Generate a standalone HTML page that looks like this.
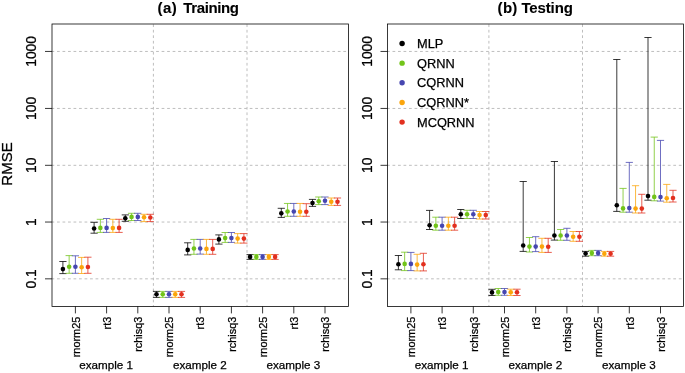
<!DOCTYPE html>
<html><head><meta charset="utf-8"><style>
html,body{margin:0;padding:0;background:#fff;}
svg{display:block;will-change:transform;}
text{font-family:"Liberation Sans",sans-serif;fill:#000;stroke:#000;stroke-width:0.25px;}
.ti{stroke-width:0.1px;}
.ya{font-size:13.8px;}
.xa{font-size:10.9px;}
.ex{font-size:11.65px;}
.ti{font-size:15px;font-weight:bold;word-spacing:1.3px;}
.lg{font-size:12.8px;}
.yl{font-size:15px;}
</style></head><body>
<svg width="685" height="373" viewBox="0 0 685 373">
<rect width="685" height="373" fill="#fff"/>
<line x1="52" y1="51.44" x2="348.4" y2="51.44" stroke="#bebebe" stroke-width="1" stroke-dasharray="2.75 2.756" stroke-dashoffset="0.5"/>
<line x1="52" y1="108.45" x2="348.4" y2="108.45" stroke="#bebebe" stroke-width="1" stroke-dasharray="2.75 2.756" stroke-dashoffset="0.5"/>
<line x1="52" y1="165.32" x2="348.4" y2="165.32" stroke="#bebebe" stroke-width="1" stroke-dasharray="2.75 2.756" stroke-dashoffset="0.5"/>
<line x1="52" y1="222.04" x2="348.4" y2="222.04" stroke="#bebebe" stroke-width="1" stroke-dasharray="2.75 2.756" stroke-dashoffset="0.5"/>
<line x1="52" y1="278.84" x2="348.4" y2="278.84" stroke="#bebebe" stroke-width="1" stroke-dasharray="2.75 2.756" stroke-dashoffset="0.5"/>
<line x1="153.4" y1="24" x2="153.4" y2="306.4" stroke="#bebebe" stroke-width="1" stroke-dasharray="2.75 2.756" stroke-dashoffset="-0.3"/>
<line x1="247" y1="24" x2="247" y2="306.4" stroke="#bebebe" stroke-width="1" stroke-dasharray="2.75 2.756" stroke-dashoffset="-0.3"/>
<path d="M62.9 261.5V273.6M59.3 261.5H66.5M59.3 273.6H66.5" stroke="#000000" stroke-width="0.78" fill="none"/>
<path d="M69.15 255.6V273.3M65.55 255.6H72.75M65.55 273.3H72.75" stroke="#72C41A" stroke-width="0.78" fill="none"/>
<path d="M75.4 255.8V273.3M71.8 255.8H79M71.8 273.3H79" stroke="#4646B0" stroke-width="0.78" fill="none"/>
<path d="M81.65 257.4V273.5M78.05 257.4H85.25M78.05 273.5H85.25" stroke="#FBA50C" stroke-width="0.78" fill="none"/>
<path d="M87.9 257.2V273.3M84.3 257.2H91.5M84.3 273.3H91.5" stroke="#E2301F" stroke-width="0.78" fill="none"/>
<circle cx="62.9" cy="269.1" r="2.3" fill="#000000"/>
<circle cx="69.15" cy="266.7" r="2.3" fill="#72C41A"/>
<circle cx="75.4" cy="266.7" r="2.3" fill="#4646B0"/>
<circle cx="81.65" cy="267.3" r="2.3" fill="#FBA50C"/>
<circle cx="87.9" cy="267" r="2.3" fill="#E2301F"/>
<path d="M94.1 222.3V233.2M90.5 222.3H97.7M90.5 233.2H97.7" stroke="#000000" stroke-width="0.78" fill="none"/>
<path d="M100.35 219.3V232.4M96.75 219.3H103.95M96.75 232.4H103.95" stroke="#72C41A" stroke-width="0.78" fill="none"/>
<path d="M106.6 218.5V232.4M103 218.5H110.2M103 232.4H110.2" stroke="#4646B0" stroke-width="0.78" fill="none"/>
<path d="M112.85 219.3V232.4M109.25 219.3H116.45M109.25 232.4H116.45" stroke="#FBA50C" stroke-width="0.78" fill="none"/>
<path d="M119.1 219.3V232.4M115.5 219.3H122.7M115.5 232.4H122.7" stroke="#E2301F" stroke-width="0.78" fill="none"/>
<circle cx="94.1" cy="228.5" r="2.3" fill="#000000"/>
<circle cx="100.35" cy="227.9" r="2.3" fill="#72C41A"/>
<circle cx="106.6" cy="227.9" r="2.3" fill="#4646B0"/>
<circle cx="112.85" cy="228.1" r="2.3" fill="#FBA50C"/>
<circle cx="119.1" cy="227.9" r="2.3" fill="#E2301F"/>
<path d="M125.3 214.9V221.3M121.7 214.9H128.9M121.7 221.3H128.9" stroke="#000000" stroke-width="0.78" fill="none"/>
<path d="M131.55 213.3V220.5M127.95 213.3H135.15M127.95 220.5H135.15" stroke="#72C41A" stroke-width="0.78" fill="none"/>
<path d="M137.8 213.3V220.5M134.2 213.3H141.4M134.2 220.5H141.4" stroke="#4646B0" stroke-width="0.78" fill="none"/>
<path d="M144.05 214.3V221.6M140.45 214.3H147.65M140.45 221.6H147.65" stroke="#FBA50C" stroke-width="0.78" fill="none"/>
<path d="M150.3 214.3V221.6M146.7 214.3H153.9M146.7 221.6H153.9" stroke="#E2301F" stroke-width="0.78" fill="none"/>
<circle cx="125.3" cy="218.35" r="2.3" fill="#000000"/>
<circle cx="131.55" cy="216.9" r="2.3" fill="#72C41A"/>
<circle cx="137.8" cy="216.9" r="2.3" fill="#4646B0"/>
<circle cx="144.05" cy="217.3" r="2.3" fill="#FBA50C"/>
<circle cx="150.3" cy="217.5" r="2.3" fill="#E2301F"/>
<path d="M156.5 291.4V297.4M152.9 291.4H160.1M152.9 297.4H160.1" stroke="#000000" stroke-width="0.78" fill="none"/>
<path d="M162.75 291.4V297.4M159.15 291.4H166.35M159.15 297.4H166.35" stroke="#72C41A" stroke-width="0.78" fill="none"/>
<path d="M169 291.4V297.4M165.4 291.4H172.6M165.4 297.4H172.6" stroke="#4646B0" stroke-width="0.78" fill="none"/>
<path d="M175.25 291.4V297.4M171.65 291.4H178.85M171.65 297.4H178.85" stroke="#FBA50C" stroke-width="0.78" fill="none"/>
<path d="M181.5 291.4V297.4M177.9 291.4H185.1M177.9 297.4H185.1" stroke="#E2301F" stroke-width="0.78" fill="none"/>
<circle cx="156.5" cy="294.3" r="2.3" fill="#000000"/>
<circle cx="162.75" cy="294.3" r="2.3" fill="#72C41A"/>
<circle cx="169" cy="294.3" r="2.3" fill="#4646B0"/>
<circle cx="175.25" cy="294.3" r="2.3" fill="#FBA50C"/>
<circle cx="181.5" cy="294.3" r="2.3" fill="#E2301F"/>
<path d="M187.7 242.8V254.9M184.1 242.8H191.3M184.1 254.9H191.3" stroke="#000000" stroke-width="0.78" fill="none"/>
<path d="M193.95 239.4V254.3M190.35 239.4H197.55M190.35 254.3H197.55" stroke="#72C41A" stroke-width="0.78" fill="none"/>
<path d="M200.2 239.4V254.1M196.6 239.4H203.8M196.6 254.1H203.8" stroke="#4646B0" stroke-width="0.78" fill="none"/>
<path d="M206.45 239.4V254.3M202.85 239.4H210.05M202.85 254.3H210.05" stroke="#FBA50C" stroke-width="0.78" fill="none"/>
<path d="M212.7 239.4V254.3M209.1 239.4H216.3M209.1 254.3H216.3" stroke="#E2301F" stroke-width="0.78" fill="none"/>
<circle cx="187.7" cy="249.9" r="2.3" fill="#000000"/>
<circle cx="193.95" cy="248.5" r="2.3" fill="#72C41A"/>
<circle cx="200.2" cy="248.5" r="2.3" fill="#4646B0"/>
<circle cx="206.45" cy="248.9" r="2.3" fill="#FBA50C"/>
<circle cx="212.7" cy="248.9" r="2.3" fill="#E2301F"/>
<path d="M218.9 234.9V244.1M215.3 234.9H222.5M215.3 244.1H222.5" stroke="#000000" stroke-width="0.78" fill="none"/>
<path d="M225.15 232.5V242.4M221.55 232.5H228.75M221.55 242.4H228.75" stroke="#72C41A" stroke-width="0.78" fill="none"/>
<path d="M231.4 232.5V242.4M227.8 232.5H235M227.8 242.4H235" stroke="#4646B0" stroke-width="0.78" fill="none"/>
<path d="M237.65 233.6V243.1M234.05 233.6H241.25M234.05 243.1H241.25" stroke="#FBA50C" stroke-width="0.78" fill="none"/>
<path d="M243.9 233.6V243.1M240.3 233.6H247.5M240.3 243.1H247.5" stroke="#E2301F" stroke-width="0.78" fill="none"/>
<circle cx="218.9" cy="239.4" r="2.3" fill="#000000"/>
<circle cx="225.15" cy="238.1" r="2.3" fill="#72C41A"/>
<circle cx="231.4" cy="238.1" r="2.3" fill="#4646B0"/>
<circle cx="237.65" cy="238.6" r="2.3" fill="#FBA50C"/>
<circle cx="243.9" cy="238.6" r="2.3" fill="#E2301F"/>
<path d="M250.1 254.6V259.4M246.5 254.6H253.7M246.5 259.4H253.7" stroke="#000000" stroke-width="0.78" fill="none"/>
<path d="M256.35 254.6V259.4M252.75 254.6H259.95M252.75 259.4H259.95" stroke="#72C41A" stroke-width="0.78" fill="none"/>
<path d="M262.6 254.6V259.4M259 254.6H266.2M259 259.4H266.2" stroke="#4646B0" stroke-width="0.78" fill="none"/>
<path d="M268.85 254.6V259.4M265.25 254.6H272.45M265.25 259.4H272.45" stroke="#FBA50C" stroke-width="0.78" fill="none"/>
<path d="M275.1 254.6V259.4M271.5 254.6H278.7M271.5 259.4H278.7" stroke="#E2301F" stroke-width="0.78" fill="none"/>
<circle cx="250.1" cy="256.9" r="2.3" fill="#000000"/>
<circle cx="256.35" cy="256.9" r="2.3" fill="#72C41A"/>
<circle cx="262.6" cy="256.9" r="2.3" fill="#4646B0"/>
<circle cx="268.85" cy="256.9" r="2.3" fill="#FBA50C"/>
<circle cx="275.1" cy="256.9" r="2.3" fill="#E2301F"/>
<path d="M281.3 208.3V217.4M277.7 208.3H284.9M277.7 217.4H284.9" stroke="#000000" stroke-width="0.78" fill="none"/>
<path d="M287.55 203.45V216.3M283.95 203.45H291.15M283.95 216.3H291.15" stroke="#72C41A" stroke-width="0.78" fill="none"/>
<path d="M293.8 203.45V216.3M290.2 203.45H297.4M290.2 216.3H297.4" stroke="#4646B0" stroke-width="0.78" fill="none"/>
<path d="M300.05 203.45V216.3M296.45 203.45H303.65M296.45 216.3H303.65" stroke="#FBA50C" stroke-width="0.78" fill="none"/>
<path d="M306.3 203.7V216.3M302.7 203.7H309.9M302.7 216.3H309.9" stroke="#E2301F" stroke-width="0.78" fill="none"/>
<circle cx="281.3" cy="213.35" r="2.3" fill="#000000"/>
<circle cx="287.55" cy="211.5" r="2.3" fill="#72C41A"/>
<circle cx="293.8" cy="211.5" r="2.3" fill="#4646B0"/>
<circle cx="300.05" cy="211.7" r="2.3" fill="#FBA50C"/>
<circle cx="306.3" cy="211.7" r="2.3" fill="#E2301F"/>
<path d="M312.5 199.4V206.4M308.9 199.4H316.1M308.9 206.4H316.1" stroke="#000000" stroke-width="0.78" fill="none"/>
<path d="M318.75 197V204.6M315.15 197H322.35M315.15 204.6H322.35" stroke="#72C41A" stroke-width="0.78" fill="none"/>
<path d="M325 197V204.6M321.4 197H328.6M321.4 204.6H328.6" stroke="#4646B0" stroke-width="0.78" fill="none"/>
<path d="M331.25 198V205.4M327.65 198H334.85M327.65 205.4H334.85" stroke="#FBA50C" stroke-width="0.78" fill="none"/>
<path d="M337.5 198V205.4M333.9 198H341.1M333.9 205.4H341.1" stroke="#E2301F" stroke-width="0.78" fill="none"/>
<circle cx="312.5" cy="203.1" r="2.3" fill="#000000"/>
<circle cx="318.75" cy="201.3" r="2.3" fill="#72C41A"/>
<circle cx="325" cy="200.7" r="2.3" fill="#4646B0"/>
<circle cx="331.25" cy="201.7" r="2.3" fill="#FBA50C"/>
<circle cx="337.5" cy="201.7" r="2.3" fill="#E2301F"/>
<rect x="52" y="24" width="296.4" height="282.4" fill="none" stroke="#000" stroke-width="0.78"/>
<line x1="45" y1="51.44" x2="52" y2="51.44" stroke="#000" stroke-width="0.78"/>
<text class="ya" transform="translate(36.2,51.44) rotate(-90)" text-anchor="middle">1000</text>
<line x1="45" y1="108.45" x2="52" y2="108.45" stroke="#000" stroke-width="0.78"/>
<text class="ya" transform="translate(36.2,108.45) rotate(-90)" text-anchor="middle">100</text>
<line x1="45" y1="165.32" x2="52" y2="165.32" stroke="#000" stroke-width="0.78"/>
<text class="ya" transform="translate(36.2,165.32) rotate(-90)" text-anchor="middle">10</text>
<line x1="45" y1="222.04" x2="52" y2="222.04" stroke="#000" stroke-width="0.78"/>
<text class="ya" transform="translate(36.2,222.04) rotate(-90)" text-anchor="middle">1</text>
<line x1="45" y1="278.84" x2="52" y2="278.84" stroke="#000" stroke-width="0.78"/>
<text class="ya" transform="translate(36.2,278.84) rotate(-90)" text-anchor="middle">0.1</text>
<line x1="75.4" y1="306.4" x2="75.4" y2="313.4" stroke="#000" stroke-width="0.78"/>
<text class="xa" transform="translate(79.6,316.7) rotate(-90)" text-anchor="end">rnorm25</text>
<line x1="106.6" y1="306.4" x2="106.6" y2="313.4" stroke="#000" stroke-width="0.78"/>
<text class="xa" transform="translate(110.8,316.7) rotate(-90)" text-anchor="end">rt3</text>
<line x1="137.8" y1="306.4" x2="137.8" y2="313.4" stroke="#000" stroke-width="0.78"/>
<text class="xa" transform="translate(142,316.7) rotate(-90)" text-anchor="end">rchisq3</text>
<line x1="169" y1="306.4" x2="169" y2="313.4" stroke="#000" stroke-width="0.78"/>
<text class="xa" transform="translate(173.2,316.7) rotate(-90)" text-anchor="end">rnorm25</text>
<line x1="200.2" y1="306.4" x2="200.2" y2="313.4" stroke="#000" stroke-width="0.78"/>
<text class="xa" transform="translate(204.4,316.7) rotate(-90)" text-anchor="end">rt3</text>
<line x1="231.4" y1="306.4" x2="231.4" y2="313.4" stroke="#000" stroke-width="0.78"/>
<text class="xa" transform="translate(235.6,316.7) rotate(-90)" text-anchor="end">rchisq3</text>
<line x1="262.6" y1="306.4" x2="262.6" y2="313.4" stroke="#000" stroke-width="0.78"/>
<text class="xa" transform="translate(266.8,316.7) rotate(-90)" text-anchor="end">rnorm25</text>
<line x1="293.8" y1="306.4" x2="293.8" y2="313.4" stroke="#000" stroke-width="0.78"/>
<text class="xa" transform="translate(298,316.7) rotate(-90)" text-anchor="end">rt3</text>
<line x1="325" y1="306.4" x2="325" y2="313.4" stroke="#000" stroke-width="0.78"/>
<text class="xa" transform="translate(329.2,316.7) rotate(-90)" text-anchor="end">rchisq3</text>
<text class="ex" x="106.2" y="369.2" text-anchor="middle">example 1</text>
<text class="ex" x="199.8" y="369.2" text-anchor="middle">example 2</text>
<text class="ex" x="293.4" y="369.2" text-anchor="middle">example 3</text>
<text class="ti" x="157.5" y="13" letter-spacing="0.5">(a)</text>
<text class="ti" x="183.3" y="13" letter-spacing="-0.39">Training</text>
<line x1="387.5" y1="51.44" x2="683.4" y2="51.44" stroke="#bebebe" stroke-width="1" stroke-dasharray="2.75 2.756" stroke-dashoffset="0.5"/>
<line x1="387.5" y1="108.45" x2="683.4" y2="108.45" stroke="#bebebe" stroke-width="1" stroke-dasharray="2.75 2.756" stroke-dashoffset="0.5"/>
<line x1="387.5" y1="165.32" x2="683.4" y2="165.32" stroke="#bebebe" stroke-width="1" stroke-dasharray="2.75 2.756" stroke-dashoffset="0.5"/>
<line x1="387.5" y1="222.04" x2="683.4" y2="222.04" stroke="#bebebe" stroke-width="1" stroke-dasharray="2.75 2.756" stroke-dashoffset="0.5"/>
<line x1="387.5" y1="278.84" x2="683.4" y2="278.84" stroke="#bebebe" stroke-width="1" stroke-dasharray="2.75 2.756" stroke-dashoffset="0.5"/>
<line x1="488.9" y1="24" x2="488.9" y2="306.4" stroke="#bebebe" stroke-width="1" stroke-dasharray="2.75 2.756" stroke-dashoffset="-0.3"/>
<line x1="582.5" y1="24" x2="582.5" y2="306.4" stroke="#bebebe" stroke-width="1" stroke-dasharray="2.75 2.756" stroke-dashoffset="-0.3"/>
<path d="M398.4 255.5V269.8M394.8 255.5H402M394.8 269.8H402" stroke="#000000" stroke-width="0.78" fill="none"/>
<path d="M404.65 252.2V270.6M401.05 252.2H408.25M401.05 270.6H408.25" stroke="#72C41A" stroke-width="0.78" fill="none"/>
<path d="M410.9 252.4V270.6M407.3 252.4H414.5M407.3 270.6H414.5" stroke="#4646B0" stroke-width="0.78" fill="none"/>
<path d="M417.15 254.3V270.9M413.55 254.3H420.75M413.55 270.9H420.75" stroke="#FBA50C" stroke-width="0.78" fill="none"/>
<path d="M423.4 253.3V270.9M419.8 253.3H427M419.8 270.9H427" stroke="#E2301F" stroke-width="0.78" fill="none"/>
<circle cx="398.4" cy="264.3" r="2.3" fill="#000000"/>
<circle cx="404.65" cy="263.9" r="2.3" fill="#72C41A"/>
<circle cx="410.9" cy="263.9" r="2.3" fill="#4646B0"/>
<circle cx="417.15" cy="264.6" r="2.3" fill="#FBA50C"/>
<circle cx="423.4" cy="264.3" r="2.3" fill="#E2301F"/>
<path d="M429.6 210.4V229.5M426 210.4H433.2M426 229.5H433.2" stroke="#000000" stroke-width="0.78" fill="none"/>
<path d="M435.85 217.2V230.2M432.25 217.2H439.45M432.25 230.2H439.45" stroke="#72C41A" stroke-width="0.78" fill="none"/>
<path d="M442.1 217.2V230.2M438.5 217.2H445.7M438.5 230.2H445.7" stroke="#4646B0" stroke-width="0.78" fill="none"/>
<path d="M448.35 217.2V230.2M444.75 217.2H451.95M444.75 230.2H451.95" stroke="#FBA50C" stroke-width="0.78" fill="none"/>
<path d="M454.6 217.2V230.2M451 217.2H458.2M451 230.2H458.2" stroke="#E2301F" stroke-width="0.78" fill="none"/>
<circle cx="429.6" cy="225.2" r="2.3" fill="#000000"/>
<circle cx="435.85" cy="225.7" r="2.3" fill="#72C41A"/>
<circle cx="442.1" cy="225.7" r="2.3" fill="#4646B0"/>
<circle cx="448.35" cy="225.7" r="2.3" fill="#FBA50C"/>
<circle cx="454.6" cy="225.7" r="2.3" fill="#E2301F"/>
<path d="M460.8 209.5V218.5M457.2 209.5H464.4M457.2 218.5H464.4" stroke="#000000" stroke-width="0.78" fill="none"/>
<path d="M467.05 210.3V218.5M463.45 210.3H470.65M463.45 218.5H470.65" stroke="#72C41A" stroke-width="0.78" fill="none"/>
<path d="M473.3 210.3V218.5M469.7 210.3H476.9M469.7 218.5H476.9" stroke="#4646B0" stroke-width="0.78" fill="none"/>
<path d="M479.55 211.5V219M475.95 211.5H483.15M475.95 219H483.15" stroke="#FBA50C" stroke-width="0.78" fill="none"/>
<path d="M485.8 211.5V219M482.2 211.5H489.4M482.2 219H489.4" stroke="#E2301F" stroke-width="0.78" fill="none"/>
<circle cx="460.8" cy="214.3" r="2.3" fill="#000000"/>
<circle cx="467.05" cy="214.3" r="2.3" fill="#72C41A"/>
<circle cx="473.3" cy="214.3" r="2.3" fill="#4646B0"/>
<circle cx="479.55" cy="215.1" r="2.3" fill="#FBA50C"/>
<circle cx="485.8" cy="215.1" r="2.3" fill="#E2301F"/>
<path d="M492 289.3V295.5M488.4 289.3H495.6M488.4 295.5H495.6" stroke="#000000" stroke-width="0.78" fill="none"/>
<path d="M498.25 288.5V295.3M494.65 288.5H501.85M494.65 295.3H501.85" stroke="#72C41A" stroke-width="0.78" fill="none"/>
<path d="M504.5 288.5V295.3M500.9 288.5H508.1M500.9 295.3H508.1" stroke="#4646B0" stroke-width="0.78" fill="none"/>
<path d="M510.75 289.2V295.5M507.15 289.2H514.35M507.15 295.5H514.35" stroke="#FBA50C" stroke-width="0.78" fill="none"/>
<path d="M517 289.2V295.5M513.4 289.2H520.6M513.4 295.5H520.6" stroke="#E2301F" stroke-width="0.78" fill="none"/>
<circle cx="492" cy="292.4" r="2.3" fill="#000000"/>
<circle cx="498.25" cy="292" r="2.3" fill="#72C41A"/>
<circle cx="504.5" cy="292" r="2.3" fill="#4646B0"/>
<circle cx="510.75" cy="292.3" r="2.3" fill="#FBA50C"/>
<circle cx="517" cy="292.3" r="2.3" fill="#E2301F"/>
<path d="M523.2 181.5V251.4M519.6 181.5H526.8M519.6 251.4H526.8" stroke="#000000" stroke-width="0.78" fill="none"/>
<path d="M529.45 237.5V252M525.85 237.5H533.05M525.85 252H533.05" stroke="#72C41A" stroke-width="0.78" fill="none"/>
<path d="M535.7 236.7V251.6M532.1 236.7H539.3M532.1 251.6H539.3" stroke="#4646B0" stroke-width="0.78" fill="none"/>
<path d="M541.95 238.3V252.4M538.35 238.3H545.55M538.35 252.4H545.55" stroke="#FBA50C" stroke-width="0.78" fill="none"/>
<path d="M548.2 238.3V252.4M544.6 238.3H551.8M544.6 252.4H551.8" stroke="#E2301F" stroke-width="0.78" fill="none"/>
<circle cx="523.2" cy="245.5" r="2.3" fill="#000000"/>
<circle cx="529.45" cy="246.6" r="2.3" fill="#72C41A"/>
<circle cx="535.7" cy="246.6" r="2.3" fill="#4646B0"/>
<circle cx="541.95" cy="246.6" r="2.3" fill="#FBA50C"/>
<circle cx="548.2" cy="246.7" r="2.3" fill="#E2301F"/>
<path d="M554.4 161.5V240.1M550.8 161.5H558M550.8 240.1H558" stroke="#000000" stroke-width="0.78" fill="none"/>
<path d="M560.65 229.5V240.3M557.05 229.5H564.25M557.05 240.3H564.25" stroke="#72C41A" stroke-width="0.78" fill="none"/>
<path d="M566.9 228.3V240.3M563.3 228.3H570.5M563.3 240.3H570.5" stroke="#4646B0" stroke-width="0.78" fill="none"/>
<path d="M573.15 231.5V241.3M569.55 231.5H576.75M569.55 241.3H576.75" stroke="#FBA50C" stroke-width="0.78" fill="none"/>
<path d="M579.4 231.5V241.3M575.8 231.5H583M575.8 241.3H583" stroke="#E2301F" stroke-width="0.78" fill="none"/>
<circle cx="554.4" cy="235.5" r="2.3" fill="#000000"/>
<circle cx="560.65" cy="235.5" r="2.3" fill="#72C41A"/>
<circle cx="566.9" cy="235.5" r="2.3" fill="#4646B0"/>
<circle cx="573.15" cy="236.7" r="2.3" fill="#FBA50C"/>
<circle cx="579.4" cy="236.7" r="2.3" fill="#E2301F"/>
<path d="M585.6 251.4V256.2M582 251.4H589.2M582 256.2H589.2" stroke="#000000" stroke-width="0.78" fill="none"/>
<path d="M591.85 250.4V255.7M588.25 250.4H595.45M588.25 255.7H595.45" stroke="#72C41A" stroke-width="0.78" fill="none"/>
<path d="M598.1 250.4V255.7M594.5 250.4H601.7M594.5 255.7H601.7" stroke="#4646B0" stroke-width="0.78" fill="none"/>
<path d="M604.35 251.4V256.2M600.75 251.4H607.95M600.75 256.2H607.95" stroke="#FBA50C" stroke-width="0.78" fill="none"/>
<path d="M610.6 251.4V256.2M607 251.4H614.2M607 256.2H614.2" stroke="#E2301F" stroke-width="0.78" fill="none"/>
<circle cx="585.6" cy="253.5" r="2.3" fill="#000000"/>
<circle cx="591.85" cy="253.1" r="2.3" fill="#72C41A"/>
<circle cx="598.1" cy="253.1" r="2.3" fill="#4646B0"/>
<circle cx="604.35" cy="253.7" r="2.3" fill="#FBA50C"/>
<circle cx="610.6" cy="253.7" r="2.3" fill="#E2301F"/>
<path d="M616.8 59.5V211.4M613.2 59.5H620.4M613.2 211.4H620.4" stroke="#000000" stroke-width="0.78" fill="none"/>
<path d="M623.05 188.4V212.2M619.45 188.4H626.65M619.45 212.2H626.65" stroke="#72C41A" stroke-width="0.78" fill="none"/>
<path d="M629.3 162.4V212.2M625.7 162.4H632.9M625.7 212.2H632.9" stroke="#4646B0" stroke-width="0.78" fill="none"/>
<path d="M635.55 185.7V213M631.95 185.7H639.15M631.95 213H639.15" stroke="#FBA50C" stroke-width="0.78" fill="none"/>
<path d="M641.8 194.3V213M638.2 194.3H645.4M638.2 213H645.4" stroke="#E2301F" stroke-width="0.78" fill="none"/>
<circle cx="616.8" cy="205.2" r="2.3" fill="#000000"/>
<circle cx="623.05" cy="208.4" r="2.3" fill="#72C41A"/>
<circle cx="629.3" cy="208.1" r="2.3" fill="#4646B0"/>
<circle cx="635.55" cy="208.6" r="2.3" fill="#FBA50C"/>
<circle cx="641.8" cy="208.6" r="2.3" fill="#E2301F"/>
<path d="M648 37.5V200.2M644.4 37.5H651.6M644.4 200.2H651.6" stroke="#000000" stroke-width="0.78" fill="none"/>
<path d="M654.25 137.1V200.8M650.65 137.1H657.85M650.65 200.8H657.85" stroke="#72C41A" stroke-width="0.78" fill="none"/>
<path d="M660.5 140.4V201.1M656.9 140.4H664.1M656.9 201.1H664.1" stroke="#4646B0" stroke-width="0.78" fill="none"/>
<path d="M666.75 184.4V202.2M663.15 184.4H670.35M663.15 202.2H670.35" stroke="#FBA50C" stroke-width="0.78" fill="none"/>
<path d="M673 190.3V202M669.4 190.3H676.6M669.4 202H676.6" stroke="#E2301F" stroke-width="0.78" fill="none"/>
<circle cx="648" cy="196.1" r="2.3" fill="#000000"/>
<circle cx="654.25" cy="196.9" r="2.3" fill="#72C41A"/>
<circle cx="660.5" cy="197.1" r="2.3" fill="#4646B0"/>
<circle cx="666.75" cy="198.3" r="2.3" fill="#FBA50C"/>
<circle cx="673" cy="198" r="2.3" fill="#E2301F"/>
<rect x="387.5" y="24" width="295.9" height="282.4" fill="none" stroke="#000" stroke-width="0.78"/>
<line x1="380.5" y1="51.44" x2="387.5" y2="51.44" stroke="#000" stroke-width="0.78"/>
<text class="ya" transform="translate(371.7,51.44) rotate(-90)" text-anchor="middle">1000</text>
<line x1="380.5" y1="108.45" x2="387.5" y2="108.45" stroke="#000" stroke-width="0.78"/>
<text class="ya" transform="translate(371.7,108.45) rotate(-90)" text-anchor="middle">100</text>
<line x1="380.5" y1="165.32" x2="387.5" y2="165.32" stroke="#000" stroke-width="0.78"/>
<text class="ya" transform="translate(371.7,165.32) rotate(-90)" text-anchor="middle">10</text>
<line x1="380.5" y1="222.04" x2="387.5" y2="222.04" stroke="#000" stroke-width="0.78"/>
<text class="ya" transform="translate(371.7,222.04) rotate(-90)" text-anchor="middle">1</text>
<line x1="380.5" y1="278.84" x2="387.5" y2="278.84" stroke="#000" stroke-width="0.78"/>
<text class="ya" transform="translate(371.7,278.84) rotate(-90)" text-anchor="middle">0.1</text>
<line x1="410.9" y1="306.4" x2="410.9" y2="313.4" stroke="#000" stroke-width="0.78"/>
<text class="xa" transform="translate(415.1,316.7) rotate(-90)" text-anchor="end">rnorm25</text>
<line x1="442.1" y1="306.4" x2="442.1" y2="313.4" stroke="#000" stroke-width="0.78"/>
<text class="xa" transform="translate(446.3,316.7) rotate(-90)" text-anchor="end">rt3</text>
<line x1="473.3" y1="306.4" x2="473.3" y2="313.4" stroke="#000" stroke-width="0.78"/>
<text class="xa" transform="translate(477.5,316.7) rotate(-90)" text-anchor="end">rchisq3</text>
<line x1="504.5" y1="306.4" x2="504.5" y2="313.4" stroke="#000" stroke-width="0.78"/>
<text class="xa" transform="translate(508.7,316.7) rotate(-90)" text-anchor="end">rnorm25</text>
<line x1="535.7" y1="306.4" x2="535.7" y2="313.4" stroke="#000" stroke-width="0.78"/>
<text class="xa" transform="translate(539.9,316.7) rotate(-90)" text-anchor="end">rt3</text>
<line x1="566.9" y1="306.4" x2="566.9" y2="313.4" stroke="#000" stroke-width="0.78"/>
<text class="xa" transform="translate(571.1,316.7) rotate(-90)" text-anchor="end">rchisq3</text>
<line x1="598.1" y1="306.4" x2="598.1" y2="313.4" stroke="#000" stroke-width="0.78"/>
<text class="xa" transform="translate(602.3,316.7) rotate(-90)" text-anchor="end">rnorm25</text>
<line x1="629.3" y1="306.4" x2="629.3" y2="313.4" stroke="#000" stroke-width="0.78"/>
<text class="xa" transform="translate(633.5,316.7) rotate(-90)" text-anchor="end">rt3</text>
<line x1="660.5" y1="306.4" x2="660.5" y2="313.4" stroke="#000" stroke-width="0.78"/>
<text class="xa" transform="translate(664.7,316.7) rotate(-90)" text-anchor="end">rchisq3</text>
<text class="ex" x="441.7" y="369.2" text-anchor="middle">example 1</text>
<text class="ex" x="535.3" y="369.2" text-anchor="middle">example 2</text>
<text class="ex" x="628.9" y="369.2" text-anchor="middle">example 3</text>
<text class="ti" x="497.6" y="13" letter-spacing="0.3">(b)</text>
<text class="ti" x="521.4" y="13" letter-spacing="-0.13">Testing</text>
<circle cx="402.1" cy="43.5" r="2.7" fill="#000000"/>
<text class="lg" x="417.0" y="47.9">MLP</text>
<circle cx="402.1" cy="63.15" r="2.7" fill="#72C41A"/>
<text class="lg" x="417.0" y="67.55">QRNN</text>
<circle cx="402.1" cy="82.8" r="2.7" fill="#4646B0"/>
<text class="lg" x="417.0" y="87.2">CQRNN</text>
<circle cx="402.1" cy="102.45" r="2.7" fill="#FBA50C"/>
<text class="lg" x="417.0" y="106.85">CQRNN*</text>
<circle cx="402.1" cy="122.1" r="2.7" fill="#E2301F"/>
<text class="lg" x="417.0" y="126.5">MCQRNN</text>
<text class="yl" transform="translate(11.8,164.0) rotate(-90)" text-anchor="middle">RMSE</text>
</svg>
</body></html>
